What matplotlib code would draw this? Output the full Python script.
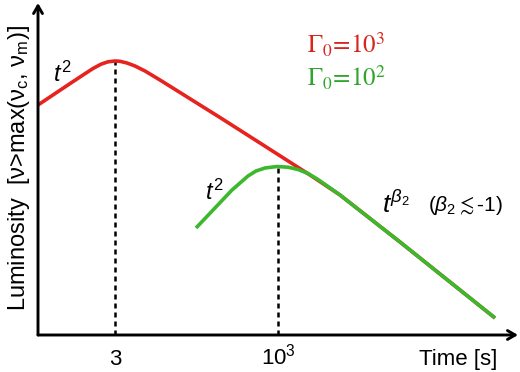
import numpy as np
import matplotlib
matplotlib.use("Agg")
from matplotlib import pyplot as plt

plt.rcParams['font.family'] = ['Liberation Sans', 'DejaVu Sans']
plt.rcParams['mathtext.fontset'] = 'custom'
plt.rcParams['mathtext.rm'] = 'Liberation Sans'
plt.rcParams['mathtext.it'] = 'Liberation Sans:italic'
plt.rcParams['mathtext.fallback'] = 'stix'

# schematic light curves (arbitrary log-time / log-luminosity units)
red_t = [0, 17, 32, 45, 55, 63, 70, 77, 82, 89, 97, 107, 122, 142, 182, 222, 272, 302, 362, 457]
red_L = [230, 241.4, 251.4, 260, 266.5, 270.8, 273.2, 274, 273.7, 272, 269, 264, 255, 242.5,
         217.5, 192, 160, 140, 93, 17]

green_t = [158, 194, 202, 210, 218, 227, 239, 250, 260, 270, 280, 290, 302, 362, 457]
green_L = [107, 145, 152, 159, 164, 167, 168.5, 167.8, 165.5, 161.5, 155.5, 148.5, 140, 93, 17]

peaks_t = [77, 240]
peaks_L = [274, 168]

tick_pos = [77, 240, 420]
tick_labels = ['3', '$10^3$', 'Time [s]']

red = '#e6231e'
green = '#3cb82d'

fig = plt.figure(figsize=(5.2, 3.72), dpi=100)
ax = fig.add_axes([38 / 520, 37 / 372, 480 / 520, 332 / 372])
ax.set_xlim(0, 480)
ax.set_ylim(0, 332)
for s in ax.spines.values():
    s.set_visible(False)

ax.plot(red_t, red_L, color=red, lw=2.6, solid_joinstyle='round', solid_capstyle='butt', zorder=3)
ax.plot(green_t, green_L, color=green, lw=2.6, solid_joinstyle='round', solid_capstyle='butt', zorder=4)
for t, L in zip(peaks_t, peaks_L):
    ax.plot([t, t], [0, L], color='black', lw=1.8, dashes=(2, 1.6), zorder=2)

# axes with arrow heads
arrow = dict(arrowstyle='->,head_length=0.55,head_width=0.32', lw=2.1, color='black',
             shrinkA=0, shrinkB=0)
ax.annotate('', xy=(1, 0), xytext=(0, 0), xycoords='axes fraction', arrowprops=arrow,
            annotation_clip=False)
ax.annotate('', xy=(0, 1), xytext=(0, 0), xycoords='axes fraction', arrowprops=arrow,
            annotation_clip=False)

ax.set_xticks(tick_pos)
ax.set_xticklabels(tick_labels)
ax.set_yticks([])
ax.tick_params(axis='x', length=0, labelsize=16, pad=21.5)
for lab in ax.get_xticklabels():
    lab.set_va('baseline')

ax.set_ylabel(r'Luminosity  [ν>max(ν$_\mathrm{c}$, ν$_\mathrm{m}$)]', fontsize=17)
ax.yaxis.label.set_va('center')
ax.yaxis.set_label_coords(-19 / 480, 0.503)

ax.text(15, 253, r'$t^2$', fontsize=17, va='baseline')
ax.text(167, 135, r'$t^2$', fontsize=17, va='baseline')
ax.text(344, 122, r'$t^{\beta_2}$', fontsize=19, va='baseline')
ax.text(390, 124, r'($\beta_2\lesssim$-1)', fontsize=15, va='baseline')

ax.text(269, 290, r'$\Gamma_0\!=\!10^3$', fontsize=18, color='#d9241c', va='center',
        math_fontfamily='stix')
ax.text(269, 257, r'$\Gamma_0\!=\!10^2$', fontsize=18, color='#2fa52a', va='center',
        math_fontfamily='stix')

fig.savefig('out.png', dpi=100)
